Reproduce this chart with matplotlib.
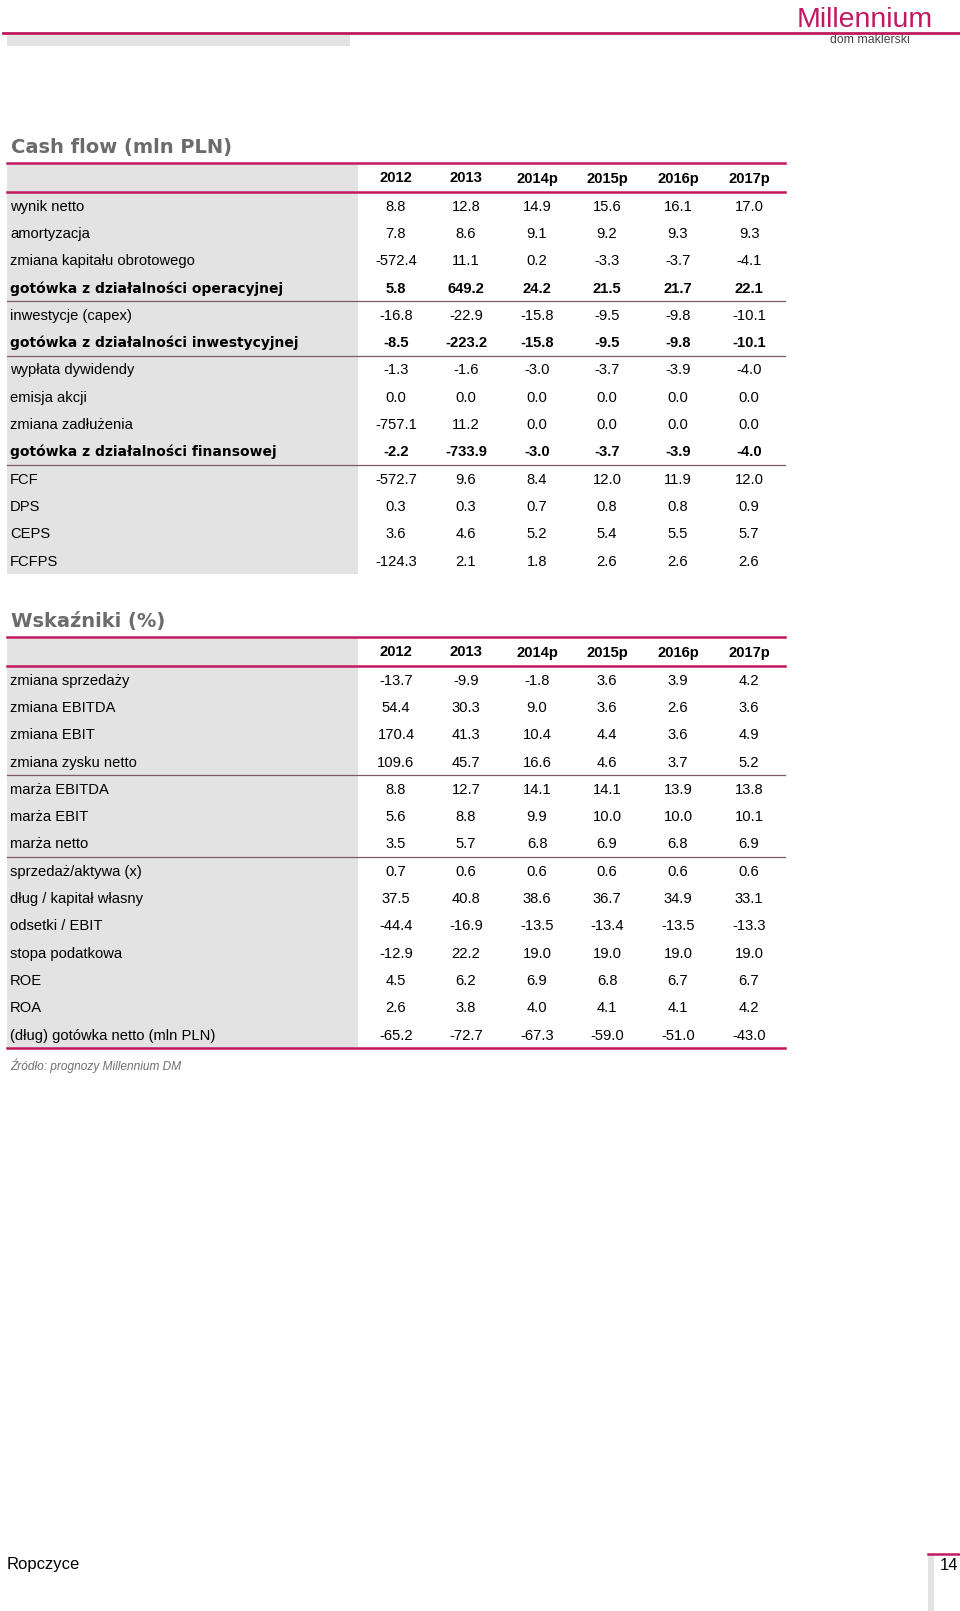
import matplotlib.pyplot as plt
from matplotlib.patches import Rectangle

# --- data -------------------------------------------------------------
years = ["2012", "2013", "2014p", "2015p", "2016p", "2017p"]

cf_labels = ["wynik netto", "amortyzacja", "zmiana kapitału obrotowego",
             "gotówka z działalności operacyjnej", "inwestycje (capex)",
             "gotówka z działalności inwestycyjnej", "wypłata dywidendy",
             "emisja akcji", "zmiana zadłużenia",
             "gotówka z działalności finansowej", "FCF", "DPS", "CEPS", "FCFPS"]
cf_bold = [3, 5, 9]
cf_sep_after = [3, 5, 9]
cf_2012 = [8.8, 7.8, -572.4, 5.8, -16.8, -8.5, -1.3, 0.0, -757.1, -2.2, -572.7, 0.3, 3.6, -124.3]
cf_2013 = [12.8, 8.6, 11.1, 649.2, -22.9, -223.2, -1.6, 0.0, 11.2, -733.9, 9.6, 0.3, 4.6, 2.1]
cf_2014 = [14.9, 9.1, 0.2, 24.2, -15.8, -15.8, -3.0, 0.0, 0.0, -3.0, 8.4, 0.7, 5.2, 1.8]
cf_2015 = [15.6, 9.2, -3.3, 21.5, -9.5, -9.5, -3.7, 0.0, 0.0, -3.7, 12.0, 0.8, 5.4, 2.6]
cf_2016 = [16.1, 9.3, -3.7, 21.7, -9.8, -9.8, -3.9, 0.0, 0.0, -3.9, 11.9, 0.8, 5.5, 2.6]
cf_2017 = [17.0, 9.3, -4.1, 22.1, -10.1, -10.1, -4.0, 0.0, 0.0, -4.0, 12.0, 0.9, 5.7, 2.6]

wsk_labels = ["zmiana sprzedaży", "zmiana EBITDA", "zmiana EBIT", "zmiana zysku netto",
              "marża EBITDA", "marża EBIT", "marża netto", "sprzedaż/aktywa (x)",
              "dług / kapitał własny", "odsetki / EBIT", "stopa podatkowa", "ROE", "ROA",
              "(dług) gotówka netto (mln PLN)"]
wsk_sep_after = [3, 6]
wsk_2012 = [-13.7, 54.4, 170.4, 109.6, 8.8, 5.6, 3.5, 0.7, 37.5, -44.4, -12.9, 4.5, 2.6, -65.2]
wsk_2013 = [-9.9, 30.3, 41.3, 45.7, 12.7, 8.8, 5.7, 0.6, 40.8, -16.9, 22.2, 6.2, 3.8, -72.7]
wsk_2014 = [-1.8, 9.0, 10.4, 16.6, 14.1, 9.9, 6.8, 0.6, 38.6, -13.5, 19.0, 6.9, 4.0, -67.3]
wsk_2015 = [3.6, 3.6, 4.4, 4.6, 14.1, 10.0, 6.9, 0.6, 36.7, -13.4, 19.0, 6.8, 4.1, -59.0]
wsk_2016 = [3.9, 2.6, 3.6, 3.7, 13.9, 10.0, 6.8, 0.6, 34.9, -13.5, 19.0, 6.7, 4.1, -51.0]
wsk_2017 = [4.2, 3.6, 4.9, 5.2, 13.8, 10.1, 6.9, 0.6, 33.1, -13.3, 19.0, 6.7, 4.2, -43.0]

# --- style ------------------------------------------------------------
MAGENTA = "#C2185F"
SEP = "#7E5A64"
GRAY = "#E3E3E3"
TITLE = "#6B6B6B"
FONT = "Liberation Sans"
FS = 10.6

col_x = [396, 466, 537, 607, 678, 749]
ROW_H = 27.3
LEFT, RIGHT, LABEL_R = 7, 785, 358

fig = plt.figure(figsize=(9.6, 16.11), dpi=100)
ax = fig.add_axes([0, 0, 1, 1])
ax.set_xlim(0, 960)
ax.set_ylim(1611, 0)
ax.axis("off")

# page header
ax.plot([3, 960], [33, 33], color=MAGENTA, lw=2, zorder=1)
ax.add_patch(Rectangle((7, 34.5), 343, 11, color=GRAY, lw=0))
ax.text(865, 20, "Millennium", family=FONT, fontsize=20.5,
        color=MAGENTA, ha="center", va="center")
ax.text(870, 40, "dom maklerski", family=FONT, fontsize=8.8,
        color="#444444", ha="center", va="center")


def draw_table(title, title_y, top, labels, cols, bold_rows, sep_after, bottom_line):
    ax.text(11, title_y, title, family="DejaVu Sans", fontweight="bold", fontsize=14,
            color=TITLE, ha="left", va="center")
    head_bot = top + 29
    n = len(labels)
    end = head_bot + n * ROW_H
    ax.add_patch(Rectangle((LEFT, top), LABEL_R - LEFT, end - top, color=GRAY, lw=0))
    ax.plot([LEFT, RIGHT], [top, top], color=MAGENTA, lw=1.8)
    ax.plot([LEFT, RIGHT], [head_bot, head_bot], color=MAGENTA, lw=1.8)
    for x, y in zip(col_x, years):
        ax.text(x, (top + head_bot) / 2 + 5, y, family=FONT, fontweight="bold",
                fontsize=FS, ha="center", va="baseline")
    for i, lab in enumerate(labels):
        yc = head_bot + (i + 0.5) * ROW_H
        if i in bold_rows:
            ax.text(10, yc + 5, lab, family="DejaVu Sans", fontweight="bold",
                    fontsize=10.0, ha="left", va="baseline")
            w = "bold"
        else:
            ax.text(10, yc + 5, lab, family=FONT, fontsize=FS, ha="left", va="baseline")
            w = "normal"
        for x, col in zip(col_x, cols):
            ax.text(x, yc + 5, f"{col[i]:.1f}", family=FONT, fontweight=w,
                    fontsize=FS, ha="center", va="baseline")
        if i in sep_after:
            yb = head_bot + (i + 1) * ROW_H
            ax.plot([LEFT, RIGHT], [yb, yb], color=SEP, lw=0.9)
    if bottom_line:
        ax.plot([LEFT, RIGHT], [end, end], color=MAGENTA, lw=1.8)
    return end


draw_table("Cash flow (mln PLN)", 148, 163, cf_labels,
           [cf_2012, cf_2013, cf_2014, cf_2015, cf_2016, cf_2017],
           cf_bold, cf_sep_after, False)
draw_table("Wskaźniki (%)", 622, 637, wsk_labels,
           [wsk_2012, wsk_2013, wsk_2014, wsk_2015, wsk_2016, wsk_2017],
           [], wsk_sep_after, True)

ax.text(10, 1066, "Źródło: prognozy Millennium DM", family=FONT, style="italic",
        fontsize=8.6, color="#707070", ha="left", va="center")

# footer
ax.text(7, 1565, "Ropczyce", family=FONT, fontsize=12, ha="left", va="center")
ax.plot([928, 960], [1554, 1554], color=MAGENTA, lw=1.8)
ax.add_patch(Rectangle((928, 1555), 6, 56, color=GRAY, lw=0))
ax.text(958, 1565, "14", family=FONT, fontsize=12, ha="right", va="center")

fig.savefig("out.png", dpi=100)
